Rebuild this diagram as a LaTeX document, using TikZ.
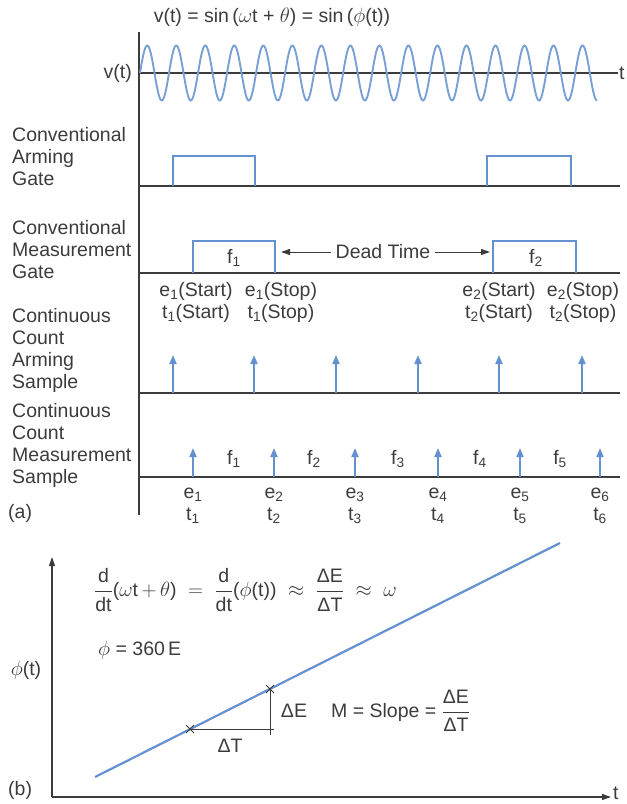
\documentclass[tikz,border=0pt]{standalone}
\usepackage{fontspec}
\setmainfont{Liberation Sans}
\usetikzlibrary{arrows.meta}
\definecolor{ink}{RGB}{60,60,60}
\definecolor{wave}{RGB}{120,160,212}
\definecolor{pulse}{RGB}{100,146,208}
\begin{document}
\begin{tikzpicture}[x=1pt,y=-1pt,
  lab/.style={font=\fontsize{19.5}{21.7}\selectfont, text=ink, inner sep=0pt},
  axisline/.style={draw=ink, line width=1.1pt},
  bluel/.style={draw=pulse, line width=2pt},
  samp/.style={draw=pulse, line width=2pt, -{Triangle[length=9pt,width=7pt]}},
  axarrow/.style={draw=ink, line width=1.1pt, -{Triangle[length=9pt,width=6pt]}},
  crossmark/.style={draw=ink, line width=0.8pt}]
\useasboundingbox (0,0) rectangle (627,804);
% ---------------- panel (a)
\node[lab] (title) at (272,17) {v(t) = sin\,($\omega$t + $\theta$) = sin\,($\phi$(t))};
\coordinate (atop) at (139,32);
\coordinate (abot) at (139,515);
\draw[axisline] (atop) -- (abot);
% v(t) row
\coordinate (v0) at (139,73);
\coordinate (v1) at (618,73);
\draw[axisline] (v0) -- (v1);
\node[lab, anchor=west] (tv) at (619,73) {t};
\node[lab, anchor=east] (vlab) at (132,73) {v(t)};
\draw[wave, line width=1.9pt] plot[domain=0:15.75, samples=600] ({140+29.02*\x},{73-27.5*sin(360*\x)});
% conventional arming gate
\node[lab, anchor=west, align=left] (cag) at (12,156.5) {Conventional\\Arming\\Gate};
\draw[axisline] (139,186) -- (620,186);
\draw[bluel] (173,186) -- (173,156) -- (255,156) -- (255,186);
\draw[bluel] (487,186) -- (487,156) -- (571,156) -- (571,186);
% conventional measurement gate
\node[lab, anchor=west, align=left] (cmg) at (12,249.5) {Conventional\\Measurement\\Gate};
\draw[axisline] (139,273) -- (620,273);
\draw[bluel] (193,273) -- (193,241) -- (275,241) -- (275,273);
\draw[bluel] (493,273) -- (493,241) -- (576,241) -- (576,273);
\node[lab] (f1g) at (234,258) {f\textsubscript{1}};
\node[lab] (f2g) at (536,258) {f\textsubscript{2}};
\coordinate (dtl) at (281,252);
\coordinate (dtr) at (490,252);
\draw[draw=ink, line width=1pt, {Triangle[length=9pt,width=6pt]}-{Triangle[length=9pt,width=6pt]}] (dtl) -- (dtr);
\node[lab, fill=white, inner xsep=5pt, inner ysep=2pt] (dead) at (383,252) {Dead Time};
\node[lab, align=center] (s1) at (196,302.5) {e\textsubscript{1}(Start)\\t\textsubscript{1}(Start)};
\node[lab, align=center] (p1) at (281,302.5) {e\textsubscript{1}(Stop)\\t\textsubscript{1}(Stop)};
\node[lab, align=center] (s2) at (499,302.5) {e\textsubscript{2}(Start)\\t\textsubscript{2}(Start)};
\node[lab, align=center] (p2) at (583,302.5) {e\textsubscript{2}(Stop)\\t\textsubscript{2}(Stop)};
% continuous count arming sample
\node[lab, anchor=west, align=left] (ccas) at (12,350.5) {Continuous\\Count\\Arming\\Sample};
\draw[axisline] (139,393) -- (620,393);
\foreach \xx in {173,254,336,418,499,582}
  \draw[samp] (\xx,393) -- (\xx,355);
% continuous count measurement sample
\node[lab, anchor=west, align=left] (ccms) at (12,445.5) {Continuous\\Count\\Measurement\\Sample};
\draw[axisline] (139,477) -- (620,477);
\foreach \xx/\i in {193/1,274/2,355/3,438/4,520/5,600/6}{
  \draw[samp] (\xx,477) -- (\xx,448);
  \node[lab] (e\i) at (\xx,495) {e\textsubscript{\i}};
  \node[lab] (t\i) at (\xx,516) {t\textsubscript{\i}};
}
\foreach \xx/\i in {234/1,314/2,398/3,480/4,560/5}
  \node[lab] (mf\i) at (\xx,459) {f\textsubscript{\i}};
\node[lab, anchor=west] (alab) at (8,513) {(a)};
% ---------------- panel (b)
\coordinate (org) at (52,797);
\coordinate (ytip) at (52,557);
\coordinate (xtip) at (611,797);
\draw[axarrow] (org) -- (ytip);
\draw[axarrow] (org) -- (xtip);
\node[lab, anchor=west] (tb) at (613,793) {t};
\node[lab, anchor=west] (blab) at (8,790) {(b)};
\node[lab] (phit) at (26,670) {$\phi$(t)};
\node[lab, anchor=west] (deriv) at (94,590) {$\displaystyle\frac{\mbox{d}}{\mbox{dt}}\mbox{(}\omega\mbox{t}\,{+}\,\theta\mbox{)} \;=\; \frac{\mbox{d}}{\mbox{dt}}\mbox{(}\phi\mbox{(t))} \;\approx\; \frac{\mbox{ΔE}}{\mbox{ΔT}} \;\approx\; \omega$};
\node[lab, anchor=west] (phieq) at (98,650) {$\phi$ = 360\,E};
\coordinate (ls) at (95,777);
\coordinate (le) at (560,543);
\draw[bluel, line width=2.2pt] (ls) -- (le);
\coordinate (c1) at (190,729);
\coordinate (c2) at (270,689);
\draw[draw=ink, line width=0.9pt] (c1) -- (274,729);
\draw[draw=ink, line width=0.9pt] (c2) -- (270,735);
\draw[crossmark] ([shift={(-4,-4)}]c1) -- ([shift={(4,4)}]c1) ([shift={(-4,4)}]c1) -- ([shift={(4,-4)}]c1);
\draw[crossmark] ([shift={(-4,-4)}]c2) -- ([shift={(4,4)}]c2) ([shift={(-4,4)}]c2) -- ([shift={(4,-4)}]c2);
\node[lab] (dE) at (294,711) {ΔE};
\node[lab] (dT) at (230,746) {ΔT};
\node[lab, anchor=west] (slope) at (331,711) {M = Slope = $\displaystyle\frac{\mbox{ΔE}}{\mbox{ΔT}}$};
\end{tikzpicture}
\end{document}
